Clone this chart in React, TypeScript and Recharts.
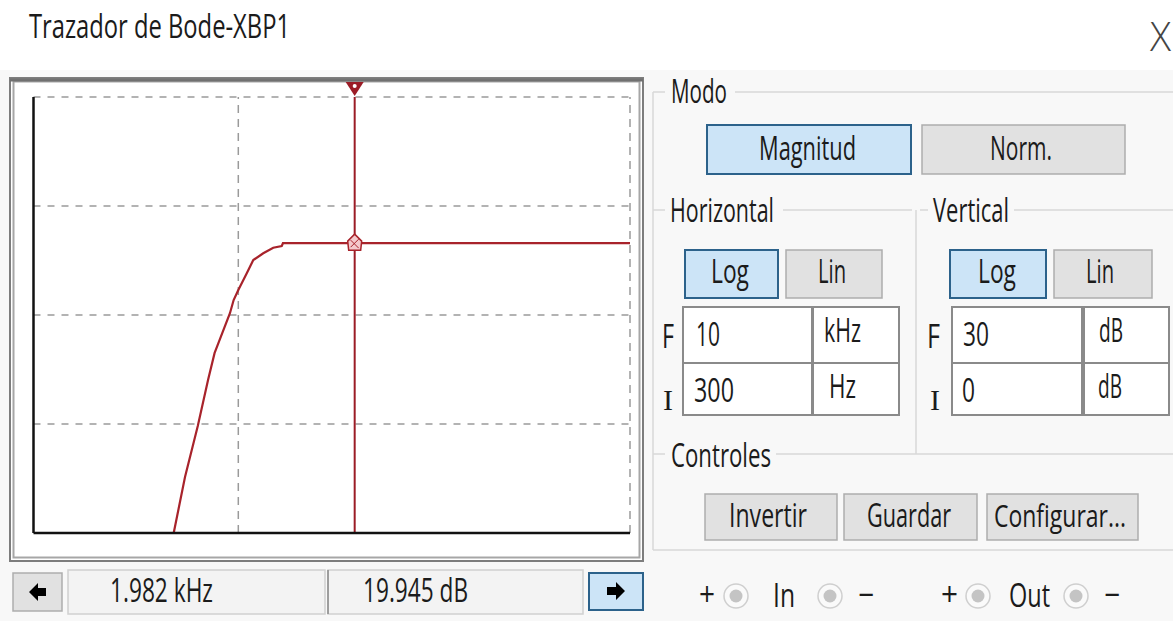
import React from "react";
import { LineChart, Line, XAxis, YAxis, ReferenceLine, ReferenceDot } from "recharts";

// magnitude curve (log frequency axis, dB)
const FREQ_HZ = [684, 731, 788, 837, 870, 889, 952, 973, 1000, 1051, 1092, 1158, 1228, 1291, 1300, 10000];
const MAG_DB = [0, 3.85, 7.36, 10.53, 12.39, 13.05, 15.12, 16.03, 16.72, 17.87, 18.78, 19.25, 19.63, 19.75, 19.94, 19.94];

const FREQ_DOMAIN = [300, 10000];
const DB_DOMAIN = [0, 30];
const FREQ_GRID = [1000, 10000];
const DB_GRID = [7.5, 15, 22.5, 30];

const CURSOR_FREQ = 1982;
const CURSOR_DB = 19.945;

const data = FREQ_HZ.map((f, i) => ({ f, db: MAG_DB[i] }));

const FONT = "'Open Sans', 'Noto Sans', sans-serif";
const INK = "#1b1b1b";
const CURVE = "#a8232b";
const FS = 32;

function Txt({ x, y, w, size = FS, family = FONT, weight = 400, fill = INK, children }: any) {
    return (
        <text
            x={x}
            y={y}
            fontSize={size}
            fontFamily={family}
            fontWeight={weight}
            fill={fill}
            textLength={w}
            lengthAdjust="spacingAndGlyphs"
        >
            {children}
        </text>
    );
}

function Btn({ x1, x2, y1, y2, active }: any) {
    return (
        <rect
            x={x1}
            y={y1}
            width={x2 - x1}
            height={y2 - y1}
            fill={active ? "#cce4f7" : "#e1e1e1"}
            stroke={active ? "#2c628b" : "#adadad"}
            strokeWidth={active ? 2 : 1.5}
        />
    );
}

function Box({ x1, x2, y1, y2 }: any) {
    return <rect x={x1} y={y1} width={x2 - x1} height={y2 - y1} fill="#fff" stroke="#8a8a8a" strokeWidth={2} />;
}

function Radio({ cx }: any) {
    return (
        <g>
            <circle cx={cx} cy={596} r={12} fill="#fafafa" stroke="#cfcfcf" strokeWidth={1.5} />
            <circle cx={cx} cy={596} r={6.5} fill="#c4c4c4" />
        </g>
    );
}

const CursorTop = (p: any) => (
    <g>
        <path d={`M${p.cx - 9},${p.cy - 15} L${p.cx + 9},${p.cy - 15} L${p.cx},${p.cy - 1} Z`} fill="#9b1c26" />
        <circle cx={p.cx} cy={p.cy - 11} r={2} fill="#fff" />
    </g>
);

const CursorMark = (p: any) => (
    <g>
        <path
            d={`M${p.cx - 7},${p.cy - 2} L${p.cx},${p.cy - 9} L${p.cx + 7},${p.cy - 2} L${p.cx + 6},${p.cy + 7} L${p.cx - 6},${p.cy + 7} Z`}
            fill="#f4c9cc"
            stroke={CURVE}
            strokeWidth={1.5}
        />
        <path d={`M${p.cx - 4},${p.cy + 4} L${p.cx + 4},${p.cy - 4} M${p.cx - 4},${p.cy - 3} L${p.cx + 4},${p.cy + 5}`} stroke={CURVE} strokeWidth={1} />
    </g>
);

export default function App() {
    return (
        <div style={{ position: "absolute", left: 0, top: 0, width: 1173, height: 621, background: "#fff", overflow: "hidden" }}>
            <svg width={1173} height={621} style={{ position: "absolute", left: 0, top: 0 }}>
                <rect x={0} y={70} width={1173} height={551} fill="#f8f8f8" />

                {/* title bar */}
                <Txt x={29} y={38} w={261}>Trazador de Bode-XBP1</Txt>
                <Txt x={1150} y={51} w={21} size={40} weight={300} fill="#444">X</Txt>

                {/* plot frame */}
                <rect x={10} y={78} width={633} height={483} fill="#fff" stroke="#7d7d7d" strokeWidth={2} />
                <rect x={13.5} y={81.5} width={626} height={476} fill="#fff" stroke="#a6a6a6" strokeWidth={2} />
                <line x1={10} y1={80} x2={643} y2={80} stroke="#707070" strokeWidth={3} />

                {/* status bar */}
                <Btn x1={13} x2={62} y1={573} y2={611} />
                <path d="M29,592 L38,583 L38,588 L46,588 L46,596 L38,596 L38,601 Z" fill="#000" />
                <rect x={68} y={570} width={257} height={44} fill="#f3f3f3" stroke="#d0d0d0" strokeWidth={1.5} />
                <rect x={328} y={570} width={255} height={44} fill="#f3f3f3" stroke="#d0d0d0" strokeWidth={1.5} />
                <line x1={328} y1={570} x2={328} y2={614} stroke="#8a8a8a" strokeWidth={1.5} />
                <Txt x={110} y={602} w={103}>1.982 kHz</Txt>
                <Txt x={363} y={602} w={105}>19.945 dB</Txt>
                <Btn x1={589} x2={643} y1={573} y2={610} active />
                <path d="M625,591 L616,582 L616,587 L607,587 L607,595 L616,595 L616,600 Z" fill="#000" />

                {/* group lines */}
                <g stroke="#d9d9d9" strokeWidth={1.5} fill="none">
                    <line x1={653} y1={92} x2={665} y2={92} />
                    <line x1={735} y1={92} x2={1173} y2={92} />
                    <line x1={653} y1={92} x2={653} y2={550} />
                    <line x1={653} y1={550} x2={1173} y2={550} />
                    <line x1={653} y1={210} x2={665} y2={210} />
                    <line x1={783} y1={210} x2={912} y2={210} />
                    <line x1={920} y1={210} x2={928} y2={210} />
                    <line x1={1014} y1={210} x2={1173} y2={210} />
                    <line x1={916} y1={210} x2={916} y2={454} />
                    <line x1={653} y1={454} x2={665} y2={454} />
                    <line x1={776} y1={454} x2={1173} y2={454} />
                </g>

                {/* Modo */}
                <Txt x={671} y={103} w={56}>Modo</Txt>
                <Btn x1={707} x2={911} y1={125} y2={174} active />
                <Txt x={759} y={160} w={97}>Magnitud</Txt>
                <Btn x1={922} x2={1125} y1={125} y2={174} />
                <Txt x={990} y={160} w={62}>Norm.</Txt>

                {/* Horizontal */}
                <Txt x={670} y={222} w={104}>Horizontal</Txt>
                <Btn x1={685} x2={778} y1={250} y2={298} active />
                <Txt x={711} y={283} w={38}>Log</Txt>
                <Btn x1={786} x2={882} y1={250} y2={298} />
                <Txt x={818} y={283} w={28}>Lin</Txt>
                <Txt x={662} y={348} w={12}>F</Txt>
                <Box x1={683} x2={812} y1={307} y2={363} />
                <Box x1={813} x2={899} y1={307} y2={363} />
                <Txt x={696} y={346} w={24}>10</Txt>
                <Txt x={824} y={342} w={37}>kHz</Txt>
                <Txt x={663} y={410} w={10} size={30} family="'Liberation Serif', serif">I</Txt>
                <Box x1={683} x2={812} y1={363} y2={415} />
                <Box x1={813} x2={899} y1={363} y2={415} />
                <Txt x={694} y={402} w={40}>300</Txt>
                <Txt x={829} y={398} w={27}>Hz</Txt>

                {/* Vertical */}
                <Txt x={933} y={222} w={76}>Vertical</Txt>
                <Btn x1={950} x2={1046} y1={250} y2={298} active />
                <Txt x={978} y={283} w={38}>Log</Txt>
                <Btn x1={1054} x2={1152} y1={250} y2={298} />
                <Txt x={1086} y={283} w={28}>Lin</Txt>
                <Txt x={927} y={348} w={13}>F</Txt>
                <Box x1={952} x2={1082} y1={307} y2={363} />
                <Box x1={1084} x2={1169} y1={307} y2={363} />
                <Txt x={963} y={346} w={26}>30</Txt>
                <Txt x={1099} y={342} w={24}>dB</Txt>
                <Txt x={930} y={410} w={10} size={30} family="'Liberation Serif', serif">I</Txt>
                <Box x1={952} x2={1082} y1={363} y2={415} />
                <Box x1={1084} x2={1169} y1={363} y2={415} />
                <Txt x={962} y={402} w={13}>0</Txt>
                <Txt x={1098} y={398} w={24}>dB</Txt>

                {/* Controles */}
                <Txt x={671} y={467} w={100}>Controles</Txt>
                <Btn x1={705} x2={837} y1={494} y2={540} />
                <Txt x={729} y={527} w={78}>Invertir</Txt>
                <Btn x1={844} x2={977} y1={494} y2={540} />
                <Txt x={867} y={527} w={84}>Guardar</Txt>
                <Btn x1={987} x2={1138} y1={494} y2={540} />
                <Txt x={994} y={527} w={132} size={31}>Configurar...</Txt>

                {/* terminals */}
                <Txt x={699} y={606} w={16}>+</Txt>
                <Radio cx={736} />
                <Txt x={773} y={607} w={22}>In</Txt>
                <Radio cx={830} />
                <Txt x={858} y={606} w={16}>−</Txt>
                <Txt x={941} y={606} w={17}>+</Txt>
                <Radio cx={978} />
                <Txt x={1009} y={607} w={41}>Out</Txt>
                <Radio cx={1076} />
                <Txt x={1104} y={606} w={16}>−</Txt>
            </svg>

            <div style={{ position: "absolute", left: 10, top: 79 }}>
                <LineChart width={632} height={480} data={data} margin={{ top: 18, right: 12, bottom: 25, left: 22.5 }}>
                    {DB_GRID.map((v) => (
                        <ReferenceLine key={`h${v}`} y={v} stroke="#9a9a9a" strokeWidth={1.5} strokeDasharray="7 7" />
                    ))}
                    {FREQ_GRID.map((v) => (
                        <ReferenceLine key={`v${v}`} x={v} stroke="#9a9a9a" strokeWidth={1.5} strokeDasharray="8 6" />
                    ))}
                    <XAxis
                        dataKey="f"
                        type="number"
                        scale="log"
                        domain={FREQ_DOMAIN}
                        tick={false}
                        tickLine={false}
                        height={1}
                        axisLine={{ stroke: "#111", strokeWidth: 2.5 }}
                    />
                    <YAxis
                        type="number"
                        domain={DB_DOMAIN}
                        tick={false}
                        tickLine={false}
                        width={1}
                        axisLine={{ stroke: "#111", strokeWidth: 2.5 }}
                    />
                    <Line type="linear" dataKey="db" stroke={CURVE} strokeWidth={2.2} dot={false} isAnimationActive={false} />
                    <ReferenceLine x={CURSOR_FREQ} stroke="#9b1c26" strokeWidth={2} />
                    <ReferenceDot x={CURSOR_FREQ} y={DB_DOMAIN[1]} r={0} ifOverflow="visible" shape={CursorTop} />
                    <ReferenceDot x={CURSOR_FREQ} y={CURSOR_DB} r={0} ifOverflow="visible" shape={CursorMark} />
                </LineChart>
            </div>
        </div>
    );
}
